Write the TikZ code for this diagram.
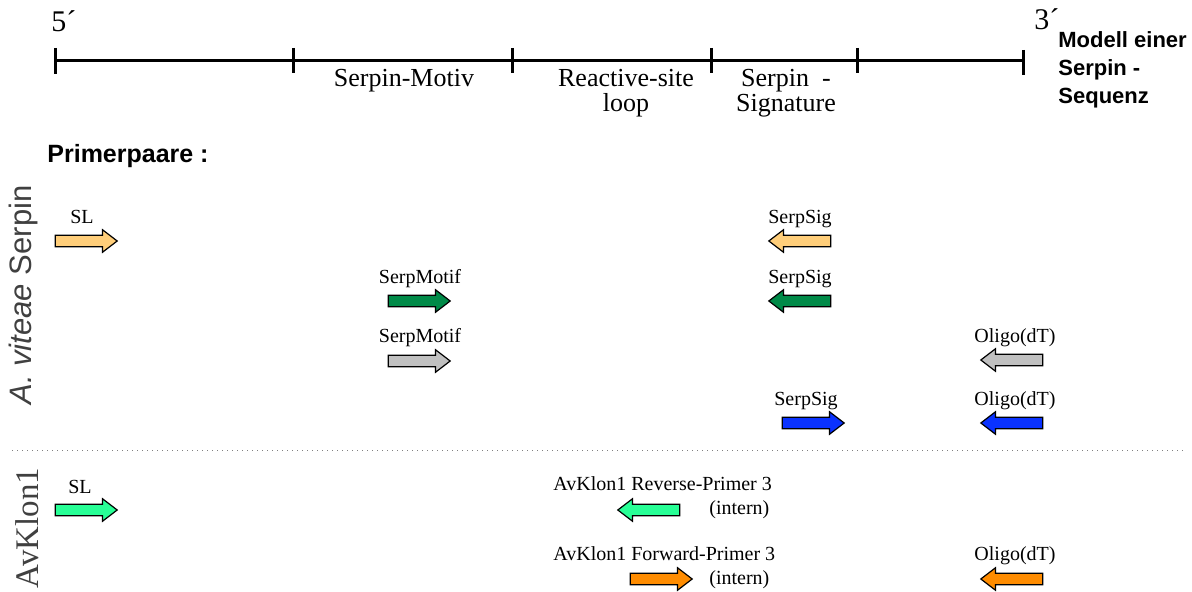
\documentclass[tikz,border=0pt]{standalone}
\usepackage{fontspec}
\setmainfont{Liberation Serif}
\newfontfamily\arialfont{Liberation Sans}
\usepackage{tikz}
\usetikzlibrary{shapes.arrows}
\definecolor{primyellow}{RGB}{255,206,122}
\definecolor{primgreen}{RGB}{0,138,72}
\definecolor{primgray}{RGB}{192,192,192}
\definecolor{primblue}{RGB}{10,50,255}
\definecolor{primmint}{RGB}{40,255,150}
\definecolor{primorange}{RGB}{255,140,0}
\tikzset{fwd/.style = {single arrow, draw, line width = 0.6pt, inner sep = 0, outer sep = 0,
    text height = 5.2pt, text depth = 0pt, text width = 0pt,
    minimum height = 31pt, single arrow head extend = 2.7pt,
    single arrow tip angle = 75, xshift = -1.8pt}}
\tikzset{rev/.style = {fwd, shape border rotate = 180, xshift = 3.6pt}}
\tikzset{lbl/.style = {anchor = base, inner sep = 0, font = \fontsize{10}{12}\selectfont}}
\tikzset{region/.style = {anchor = base, inner sep = 0, align = center, font = \fontsize{13}{12.5}\selectfont}}
\tikzset{ruler/.style = {line width = 1.5pt}}

\begin{document}
\begin{tikzpicture}[x = 0.5pt, y = -0.5pt]
      \useasboundingbox (0, 0) rectangle (1192, 592);

      % sequence model
      \draw [ruler] (55, 61) -- (1023, 61);
      \draw [ruler] (55, 48) -- (55, 74);
      \draw [ruler] (293, 48) -- (293, 73);
      \draw [ruler] (512, 48) -- (512, 73);
      \draw [ruler] (711, 48) -- (711, 73);
      \draw [ruler] (857, 48) -- (857, 73);
      \draw [ruler] (1023, 50) -- (1023, 75);

      \node [anchor = base west, inner sep = 0, font = \fontsize{15}{15}\selectfont] at (51, 32) (five) {5´};
      \node [anchor = base west, inner sep = 0, font = \fontsize{15}{15}\selectfont] at (1034, 30) (three) {3´};
      % multi-line nodes sit on their last line
      \node [region] at (404, 87) (motiv) {Serpin-Motiv};
      \node [region] at (626, 112) (loop) {Reactive-site\\loop};
      \node [region] at (786, 112) (signature) {Serpin\ \ -\\Signature};
      \node [anchor = base west, inner sep = 0, align = left,
        font = \arialfont\bfseries\fontsize{11}{14}\selectfont] at (1058, 104) (modell) {Modell einer\\Serpin -\\Sequenz};

      \node [anchor = base west, inner sep = 0, font = \arialfont\bfseries\fontsize{12.5}{14}\selectfont] at (47, 163) (paare) {Primerpaare :};

      % side labels
      \node [anchor = base, inner sep = 0, rotate = 90, text = black!75,
        font = \arialfont\fontsize{15.5}{16}\selectfont] at (32, 295) (viteae) {\itshape A. viteae\upshape\ Serpin};
      \node [anchor = base, inner sep = 0, rotate = 90, text = black!75,
        font = \fontsize{16.5}{17}\selectfont] at (38, 528) (klon) {AvKlon1};

      \draw [gray, dotted, line width = 0.5pt] (12, 450) -- (1185, 450);

      % A. viteae Serpin primers
      \node [fwd, fill = primyellow] at (86, 241) (slA) {};
      \node [rev, fill = primyellow] at (800, 241) (sigA) {};
      \node [fwd, fill = primgreen] at (419, 301) (motB) {};
      \node [rev, fill = primgreen] at (800, 301) (sigB) {};
      \node [fwd, fill = primgray] at (419, 361) (motC) {};
      \node [rev, fill = primgray] at (1012, 360) (oliC) {};
      \node [fwd, fill = primblue] at (813, 423) (sigD) {};
      \node [rev, fill = primblue] at (1012, 423) (oliD) {};

      \node [lbl] at (82, 224) (slAl) {SL};
      \node [lbl] at (800, 224) (sigAl) {SerpSig};
      \node [lbl] at (420, 284) (motBl) {SerpMotif};
      \node [lbl] at (800, 284) (sigBl) {SerpSig};
      \node [lbl] at (420, 343) (motCl) {SerpMotif};
      \node [lbl] at (1015, 343) (oliCl) {Oligo(dT)};
      \node [lbl] at (806, 406) (sigDl) {SerpSig};
      \node [lbl] at (1015, 406) (oliDl) {Oligo(dT)};

      % AvKlon1 primers
      \node [fwd, fill = primmint] at (86, 510) (slE) {};
      \node [rev, fill = primmint] at (649, 510) (revE) {};
      \node [fwd, fill = primorange] at (661, 579) (fwdF) {};
      \node [rev, fill = primorange] at (1012, 579) (oliF) {};

      \node [lbl] at (80, 493) (slEl) {SL};
      \node [lbl, anchor = base west] at (553, 490) (revEl) {AvKlon1 Reverse-Primer 3};
      \node [lbl, anchor = base west] at (709, 514) (revEi) {(intern)};
      \node [lbl, anchor = base west] at (553, 560) (fwdFl) {AvKlon1 Forward-Primer 3};
      \node [lbl, anchor = base west] at (709, 584) (fwdFi) {(intern)};
      \node [lbl] at (1015, 560) (oliFl) {Oligo(dT)};
\end{tikzpicture}
\end{document}
